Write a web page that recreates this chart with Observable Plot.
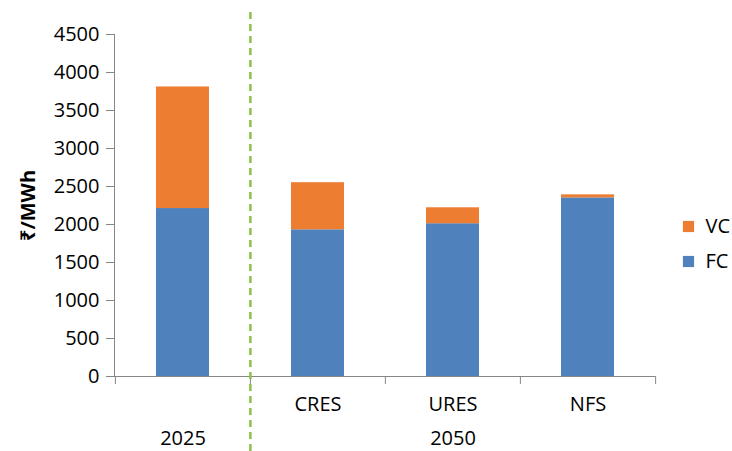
<!DOCTYPE html>
<html>
<head>
<meta charset="utf-8">
<script src="https://cdn.jsdelivr.net/npm/d3@7"></script>
<script src="https://cdn.jsdelivr.net/npm/@observablehq/plot@0.6"></script>
<style>
  html, body { margin: 0; padding: 0; background: #fff; }
  #chart { width: 732px; height: 451px; }
  svg { font-family: "Open Sans", "Noto Sans", sans-serif; }
</style>
</head>
<body>
<div id="chart"></div>
<script>
// ---- data ----
const categories = ["2025", "CRES", "URES", "NFS"];
const fcValues = [2210, 1930, 2010, 2350];
const vcValues = [1600, 620, 210, 40];
const seriesNames = ["FC", "VC"];
const seriesColors = ["#4F81BD", "#ED7D31"];
const legendOrder = ["VC", "FC"];
const yTicks = [0, 500, 1000, 1500, 2000, 2500, 3000, 3500, 4000, 4500];
const groupLabels = ["2025", "2050"];
const groupMembers = [["2025"], ["CRES", "URES", "NFS"]];
const yLabel = "₹/MWh";

// ---- derived table ----
const rows = [];
categories.forEach((c, i) => {
  rows.push({category: c, series: "FC", value: fcValues[i]});
  rows.push({category: c, series: "VC", value: vcValues[i]});
});
const groups = groupLabels.map((g, i) => ({
  label: g,
  anchor: groupMembers[i][Math.floor(groupMembers[i].length / 2)]
}));

// ---- layout ----
const width = 732, height = 451;
const marginLeft = 114, marginRight = 77, marginTop = 34, marginBottom = 75;
const step = (width - marginLeft - marginRight) / categories.length;
const axisGray = "#868686";
const legendDy = [21, 56];
const fs = 20;

const legendMarks = legendOrder.flatMap((name, i) => [
  Plot.dot([name], {frameAnchor: "right", dx: 33, dy: legendDy[i], symbol: "square", r: 6.3, fill: d => d, stroke: null}),
  Plot.text([name], {frameAnchor: "right", dx: 50, dy: legendDy[i], text: d => d, textAnchor: "start", fontSize: fs, fill: "#000"})
]);

const chart = Plot.plot({
  width, height, marginLeft, marginRight, marginTop, marginBottom,
  style: {fontSize: fs + "px", color: "#000", background: "#fff"},
  x: {domain: categories, paddingInner: 0.61, paddingOuter: 0.305, axis: null},
  y: {domain: [0, 4500], axis: null},
  color: {domain: seriesNames, range: seriesColors},
  marks: [
    Plot.barY(rows, {x: "category", y: "value", fill: "series", order: seriesNames}),
    // y axis
    Plot.axisY({ticks: yTicks, tickFormat: d => String(d), tickSize: 8, tickPadding: 7, stroke: axisGray, fill: "#000", fontSize: fs, label: null}),
    Plot.frame({anchor: "left", stroke: axisGray}),
    Plot.ruleY([0], {stroke: axisGray}),
    // category boundary ticks
    Plot.ruleX(categories, {x: d => d, y1: 0, y2: 0, insetBottom: -8, dx: -step / 2, stroke: axisGray}),
    Plot.ruleX(categories.slice(-1), {x: d => d, y1: 0, y2: 0, insetBottom: -8, dx: step / 2, stroke: axisGray}),
    // category labels
    Plot.text(categories, {x: d => d, text: d => (groupMembers[0].includes(d) ? "" : d), frameAnchor: "bottom", dy: 28, lineAnchor: "middle", fontSize: fs, fill: "#000"}),
    // group labels
    Plot.text(groups, {x: "anchor", text: "label", frameAnchor: "bottom", dy: 62, lineAnchor: "middle", fontSize: fs, fill: "#000"}),
    // dashed separator
    Plot.ruleX([groupMembers[1][0]], {x: d => d, dx: -step / 2, insetTop: -22, insetBottom: -80, stroke: "#8DC04B", strokeWidth: 2.5, strokeDasharray: "7,5"}),
    // legend
    ...legendMarks,
    // y label
    Plot.text([yLabel], {frameAnchor: "left", dx: -86, textAnchor: "middle", rotate: -90, fontWeight: "bold", fontSize: fs, fill: "#000"})
  ]
});
document.getElementById("chart").appendChild(chart);
</script>
</body>
</html>
